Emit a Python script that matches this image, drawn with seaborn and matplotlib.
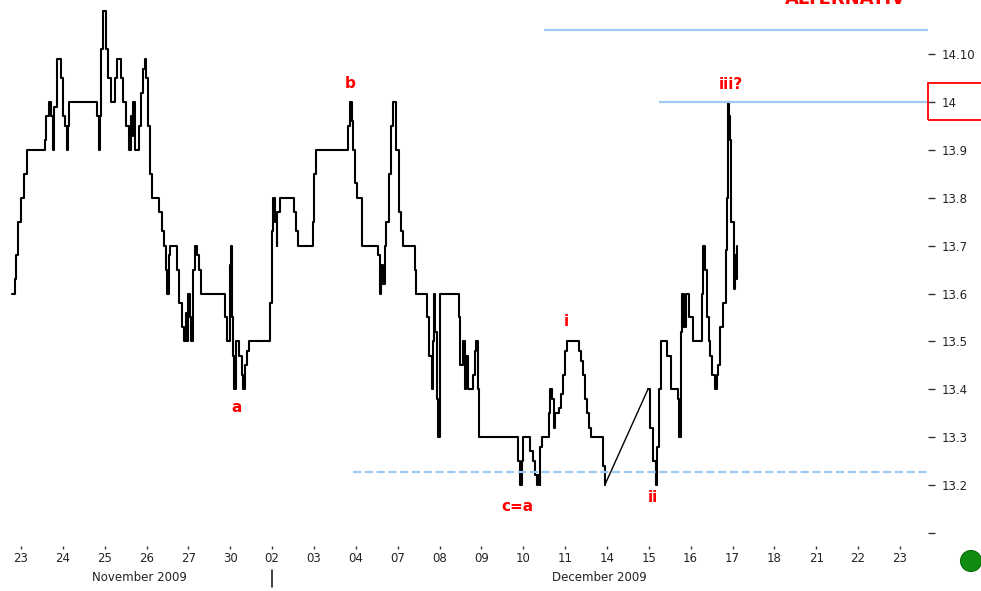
import pandas as pd
import seaborn as sns
import matplotlib.pyplot as plt
from matplotlib import patches, transforms

# x = trading-day index (0 = 23 Nov ... 17 = 17 Dec), fraction = intraday time
day_labels = ["23", "24", "25", "26", "27", "30", "02", "03", "04", "07", "08",
              "09", "10", "11", "14", "15", "16", "17", "18", "21", "22", "23"]

# first leg: 20 Nov close .. 14 Dec low (tick steps)
t_a = [-0.21, -0.14, -0.12, -0.06, -0.01, 0.07, 0.14, 0.57, 0.61, 0.67, 0.72, 0.76,
       0.80, 0.85, 0.96, 1.01, 1.06, 1.09, 1.12, 1.15, 1.82, 1.86, 1.89, 1.91, 1.97,
       2.03, 2.09, 2.15, 2.25, 2.29, 2.38, 2.44, 2.52, 2.57, 2.62, 2.65, 2.68, 2.72,
       2.83, 2.88, 2.92, 2.96, 2.99, 3.04, 3.08, 3.12, 3.30, 3.36, 3.42, 3.46, 3.50,
       3.54, 3.57, 3.73, 3.77, 3.84, 3.89, 3.94, 3.97, 4.00, 4.04, 4.07, 4.10, 4.16,
       4.20, 4.26, 4.31, 4.87, 4.93, 4.99, 5.02, 5.04, 5.07, 5.10, 5.15, 5.21, 5.27,
       5.31, 5.35, 5.41, 5.45, 5.95, 5.99, 6.03, 6.07, 6.11, 6.12, 6.19, 6.52, 6.57,
       6.62, 6.97, 7.00, 7.05, 7.82, 7.86, 7.90, 7.94, 7.98, 8.02, 8.14, 8.16, 8.54,
       8.58, 8.61, 8.64, 8.69, 8.73, 8.80, 8.84, 8.88, 8.97, 9.04, 9.09, 9.13, 9.41,
       9.45, 9.71, 9.75, 9.81, 9.85, 9.87, 9.90, 9.93, 9.97, 10.01, 10.02, 10.47,
       10.50, 10.57, 10.60, 10.63, 10.68, 10.80, 10.85, 10.88, 10.92, 10.95, 11.88,
       11.92, 11.96, 12.00, 12.17, 12.24, 12.28, 12.32, 12.36, 12.39, 12.41, 12.46,
       12.62, 12.65, 12.69, 12.73, 12.76, 12.86, 12.91, 12.95, 12.99, 13.05, 13.34,
       13.39, 13.43, 13.48, 13.53, 13.58, 13.61, 13.91, 13.95]
p_a = [13.60, 13.63, 13.68, 13.75, 13.80, 13.85, 13.90, 13.92, 13.97, 14.00, 13.97,
       13.90, 13.99, 14.09, 14.05, 13.97, 13.95, 13.90, 13.95, 14.00, 13.97, 13.90,
       13.97, 14.11, 14.19, 14.11, 14.05, 14.00, 14.05, 14.09, 14.05, 14.00, 13.95,
       13.90, 13.97, 13.93, 14.00, 13.90, 13.95, 14.02, 14.07, 14.09, 14.05, 13.95,
       13.85, 13.80, 13.77, 13.73, 13.70, 13.65, 13.60, 13.68, 13.70, 13.65, 13.58,
       13.53, 13.50, 13.56, 13.50, 13.60, 13.55, 13.50, 13.65, 13.70, 13.68, 13.65,
       13.60, 13.55, 13.50, 13.66, 13.70, 13.55, 13.47, 13.40, 13.50, 13.47, 13.43,
       13.40, 13.45, 13.48, 13.50, 13.58, 13.73, 13.80, 13.75, 13.70, 13.77, 13.80,
       13.77, 13.73, 13.70, 13.75, 13.85, 13.90, 13.95, 14.00, 13.96, 13.90, 13.83,
       13.80, 13.75, 13.70, 13.68, 13.60, 13.66, 13.62, 13.70, 13.75, 13.85, 13.95,
       14.00, 13.90, 13.77, 13.73, 13.70, 13.65, 13.60, 13.55, 13.47, 13.40, 13.50,
       13.60, 13.52, 13.38, 13.30, 13.45, 13.60, 13.55, 13.45, 13.50, 13.40, 13.47,
       13.40, 13.43, 13.48, 13.50, 13.40, 13.30, 13.25, 13.20, 13.25, 13.30, 13.27,
       13.25, 13.22, 13.20, 13.22, 13.20, 13.28, 13.30, 13.35, 13.40, 13.38, 13.32,
       13.35, 13.36, 13.39, 13.43, 13.48, 13.50, 13.48, 13.46, 13.43, 13.38, 13.35,
       13.32, 13.30, 13.24, 13.20]

# second leg: 15 Dec .. 17 Dec
t_b = [14.98, 15.04, 15.10, 15.16, 15.20, 15.25, 15.30, 15.44, 15.52, 15.69, 15.72,
       15.76, 15.80, 15.84, 15.88, 15.90, 15.97, 16.06, 16.26, 16.30, 16.34, 16.38,
       16.44, 16.47, 16.52, 16.58, 16.62, 16.66, 16.71, 16.78, 16.84, 16.87, 16.89,
       16.92, 16.95, 16.97, 17.04, 17.06, 17.09, 17.11]
p_b = [13.40, 13.32, 13.25, 13.20, 13.28, 13.40, 13.50, 13.47, 13.40, 13.38, 13.30,
       13.52, 13.60, 13.53, 13.56, 13.60, 13.55, 13.50, 13.60, 13.70, 13.65, 13.55,
       13.50, 13.47, 13.43, 13.40, 13.43, 13.45, 13.53, 13.58, 13.69, 13.80, 14.00,
       13.97, 13.92, 13.75, 13.61, 13.68, 13.63, 13.70]

y_ticks = [13.1, 13.2, 13.3, 13.4, 13.5, 13.6, 13.7, 13.8, 13.9, 14.0, 14.1]
y_labels = ["", "13.2", "13.3", "13.4", "13.5", "13.6", "13.7", "13.8", "13.9", "14", "14.10"]

# horizontal levels: (price, from day, to day, style)
levels = [(14.15, 12.49, 21.67, "-"), (14.00, 15.24, 21.67, "-"), (13.227, 7.93, 21.67, "--")]

wave_labels = ["a", "b", "c=a", "i", "ii", "iii?"]
wave_t = [5.16, 7.86, 11.85, 13.04, 15.10, 16.96]
wave_p = [13.361, 14.038, 13.154, 13.541, 13.173, 14.036]

sns.set_theme(style="white")
plt.rcParams["font.family"] = ["DejaVu Sans"]

fig = plt.figure(figsize=(9.81, 5.91), dpi=100)
ax = fig.add_axes([0, 1 - 546 / 591, 928 / 981, 546 / 591])

leg_a = pd.DataFrame({"t": t_a, "price": p_a})
leg_b = pd.DataFrame({"t": t_b, "price": p_b})
sns.lineplot(data=leg_a, x="t", y="price", drawstyle="steps-post", estimator=None,
             sort=False, color="black", lw=1.5, ax=ax)
sns.lineplot(data=leg_b, x="t", y="price", drawstyle="steps-post", estimator=None,
             sort=False, color="black", lw=1.5, ax=ax)
# gap between the two sessions is joined by a straight segment
sns.lineplot(x=[t_a[-1], t_b[0]], y=[p_a[-1], p_b[0]], estimator=None, sort=False,
             color="black", lw=1.0, ax=ax)

for price, x0, x1, ls in levels:
    ax.hlines(price, x0, x1, color="#9ccaf5", lw=1.6, linestyles=ls)

for lab, tx, py in zip(wave_labels, wave_t, wave_p):
    ax.text(tx, py, lab, color="red", fontsize=11, fontweight="bold",
            ha="center", va="center")

ax.set_xlim(-0.5, 21.67)
ax.set_ylim(13.0724, 14.2134)
ax.set_xticks(range(len(day_labels)))
ax.set_xticklabels(day_labels)
ax.yaxis.tick_right()
ax.set_yticks(y_ticks)
ax.set_yticklabels(y_labels)
ax.tick_params(axis="y", direction="out", length=5, width=1, color="#333333",
               labelsize=8.5, labelcolor="#222222", pad=5, right=True)
ax.tick_params(axis="x", direction="out", length=2.5, width=1, color="#333333",
               labelsize=8.5, labelcolor="#222222", pad=2, bottom=True)
ax.set_xlabel("")
ax.set_ylabel("")
for s in ax.spines.values():
    s.set_visible(False)

# month captions under the day labels
trans = transforms.blended_transform_factory(ax.transData, ax.transAxes)
ax.text(2.84, -0.057, "November 2009", transform=trans, ha="center", va="center",
        fontsize=8.5, color="#222222")
ax.text(13.83, -0.057, "December 2009", transform=trans, ha="center", va="center",
        fontsize=8.5, color="#222222")
ax.plot([6, 6], [-0.044, -0.075], transform=trans, color="#222222", lw=1.2, clip_on=False)

# title mostly above the visible area, as in the source screenshot
fig.text(845 / 981, 1 - 4 / 591, "ALTERNATIV", color="red", fontsize=13,
         fontweight="bold", ha="center", va="baseline")

# red box around the 14 label
fig.add_artist(patches.Rectangle((928 / 981, 1 - 120 / 591), 60 / 981, 37 / 591,
                                 transform=fig.transFigure, fill=False,
                                 edgecolor="red", lw=1.3))
# green status dot
fig.add_artist(patches.Ellipse((971 / 981, 1 - 561 / 591), 21 / 981, 21 / 591,
                               transform=fig.transFigure, facecolor="#108c10",
                               edgecolor="#0b6b0b", lw=0.8))

fig.savefig("out.png", dpi=100)
plt.close(fig)
